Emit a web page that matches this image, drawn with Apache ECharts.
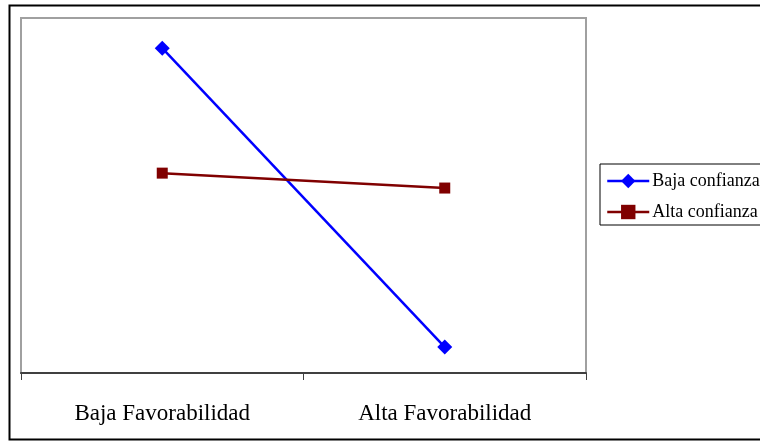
<!DOCTYPE html>
<html><head><meta charset="utf-8">
<script src="https://cdn.jsdelivr.net/npm/echarts@6/dist/echarts.min.js"></script>
<style>html,body{margin:0;padding:0;background:#fff}#c{width:760px;height:443px}</style>
</head><body><div id="c"></div>
<script>
const categories = ['Baja Favorabilidad', 'Alta Favorabilidad'];
const seriesNames = ['Baja confianza', 'Alta confianza'];
const bajaConfianza = [9.15, 0.73];
const altaConfianza = [5.63, 5.21];

const chart = echarts.init(document.getElementById('c'), null, {renderer: 'canvas'});
chart.setOption({
  animation: false,
  backgroundColor: '#fff',
  graphic: [{
    type: 'rect', silent: true,
    shape: {x: 9.5, y: 5.5, width: 760, height: 434},
    style: {fill: 'none', stroke: '#000', lineWidth: 2}
  }],
  grid: {left: 21, top: 18, right: 174, bottom: 70, show: true, borderColor: '#a0a0a0', borderWidth: 2, backgroundColor: '#fff'},
  xAxis: {
    type: 'category', data: categories, boundaryGap: true,
    axisLine: {lineStyle: {color: '#404040', width: 2}},
    axisTick: {show: true, length: 7, lineStyle: {color: '#404040', width: 1}},
    axisLabel: {fontFamily: 'Liberation Serif', fontSize: 23, color: '#000', margin: 29}
  },
  yAxis: {type: 'value', min: 0, max: 10, show: false, splitLine: {show: false}},
  legend: {
    orient: 'vertical', left: 600, top: 164,
    data: seriesNames,
    itemWidth: 42, itemHeight: 18, itemGap: 13,
    padding: [8, 40, 4, 6],
    borderColor: '#000', borderWidth: 1,
    lineStyle: {width: 2.5},
    textStyle: {fontFamily: 'Liberation Serif', fontSize: 18, color: '#000', padding: [0, 0, 0, -2]}
  },
  series: [
    {name: seriesNames[0], type: 'line', data: bajaConfianza, symbol: 'diamond', symbolSize: 15,
     lineStyle: {color: '#0000ff', width: 2.5}, itemStyle: {color: '#0000ff'}},
    {name: seriesNames[1], type: 'line', data: altaConfianza, symbol: 'rect', symbolSize: 11,
     lineStyle: {color: '#800000', width: 2.5}, itemStyle: {color: '#800000'}}
  ]
});
</script></body></html>
